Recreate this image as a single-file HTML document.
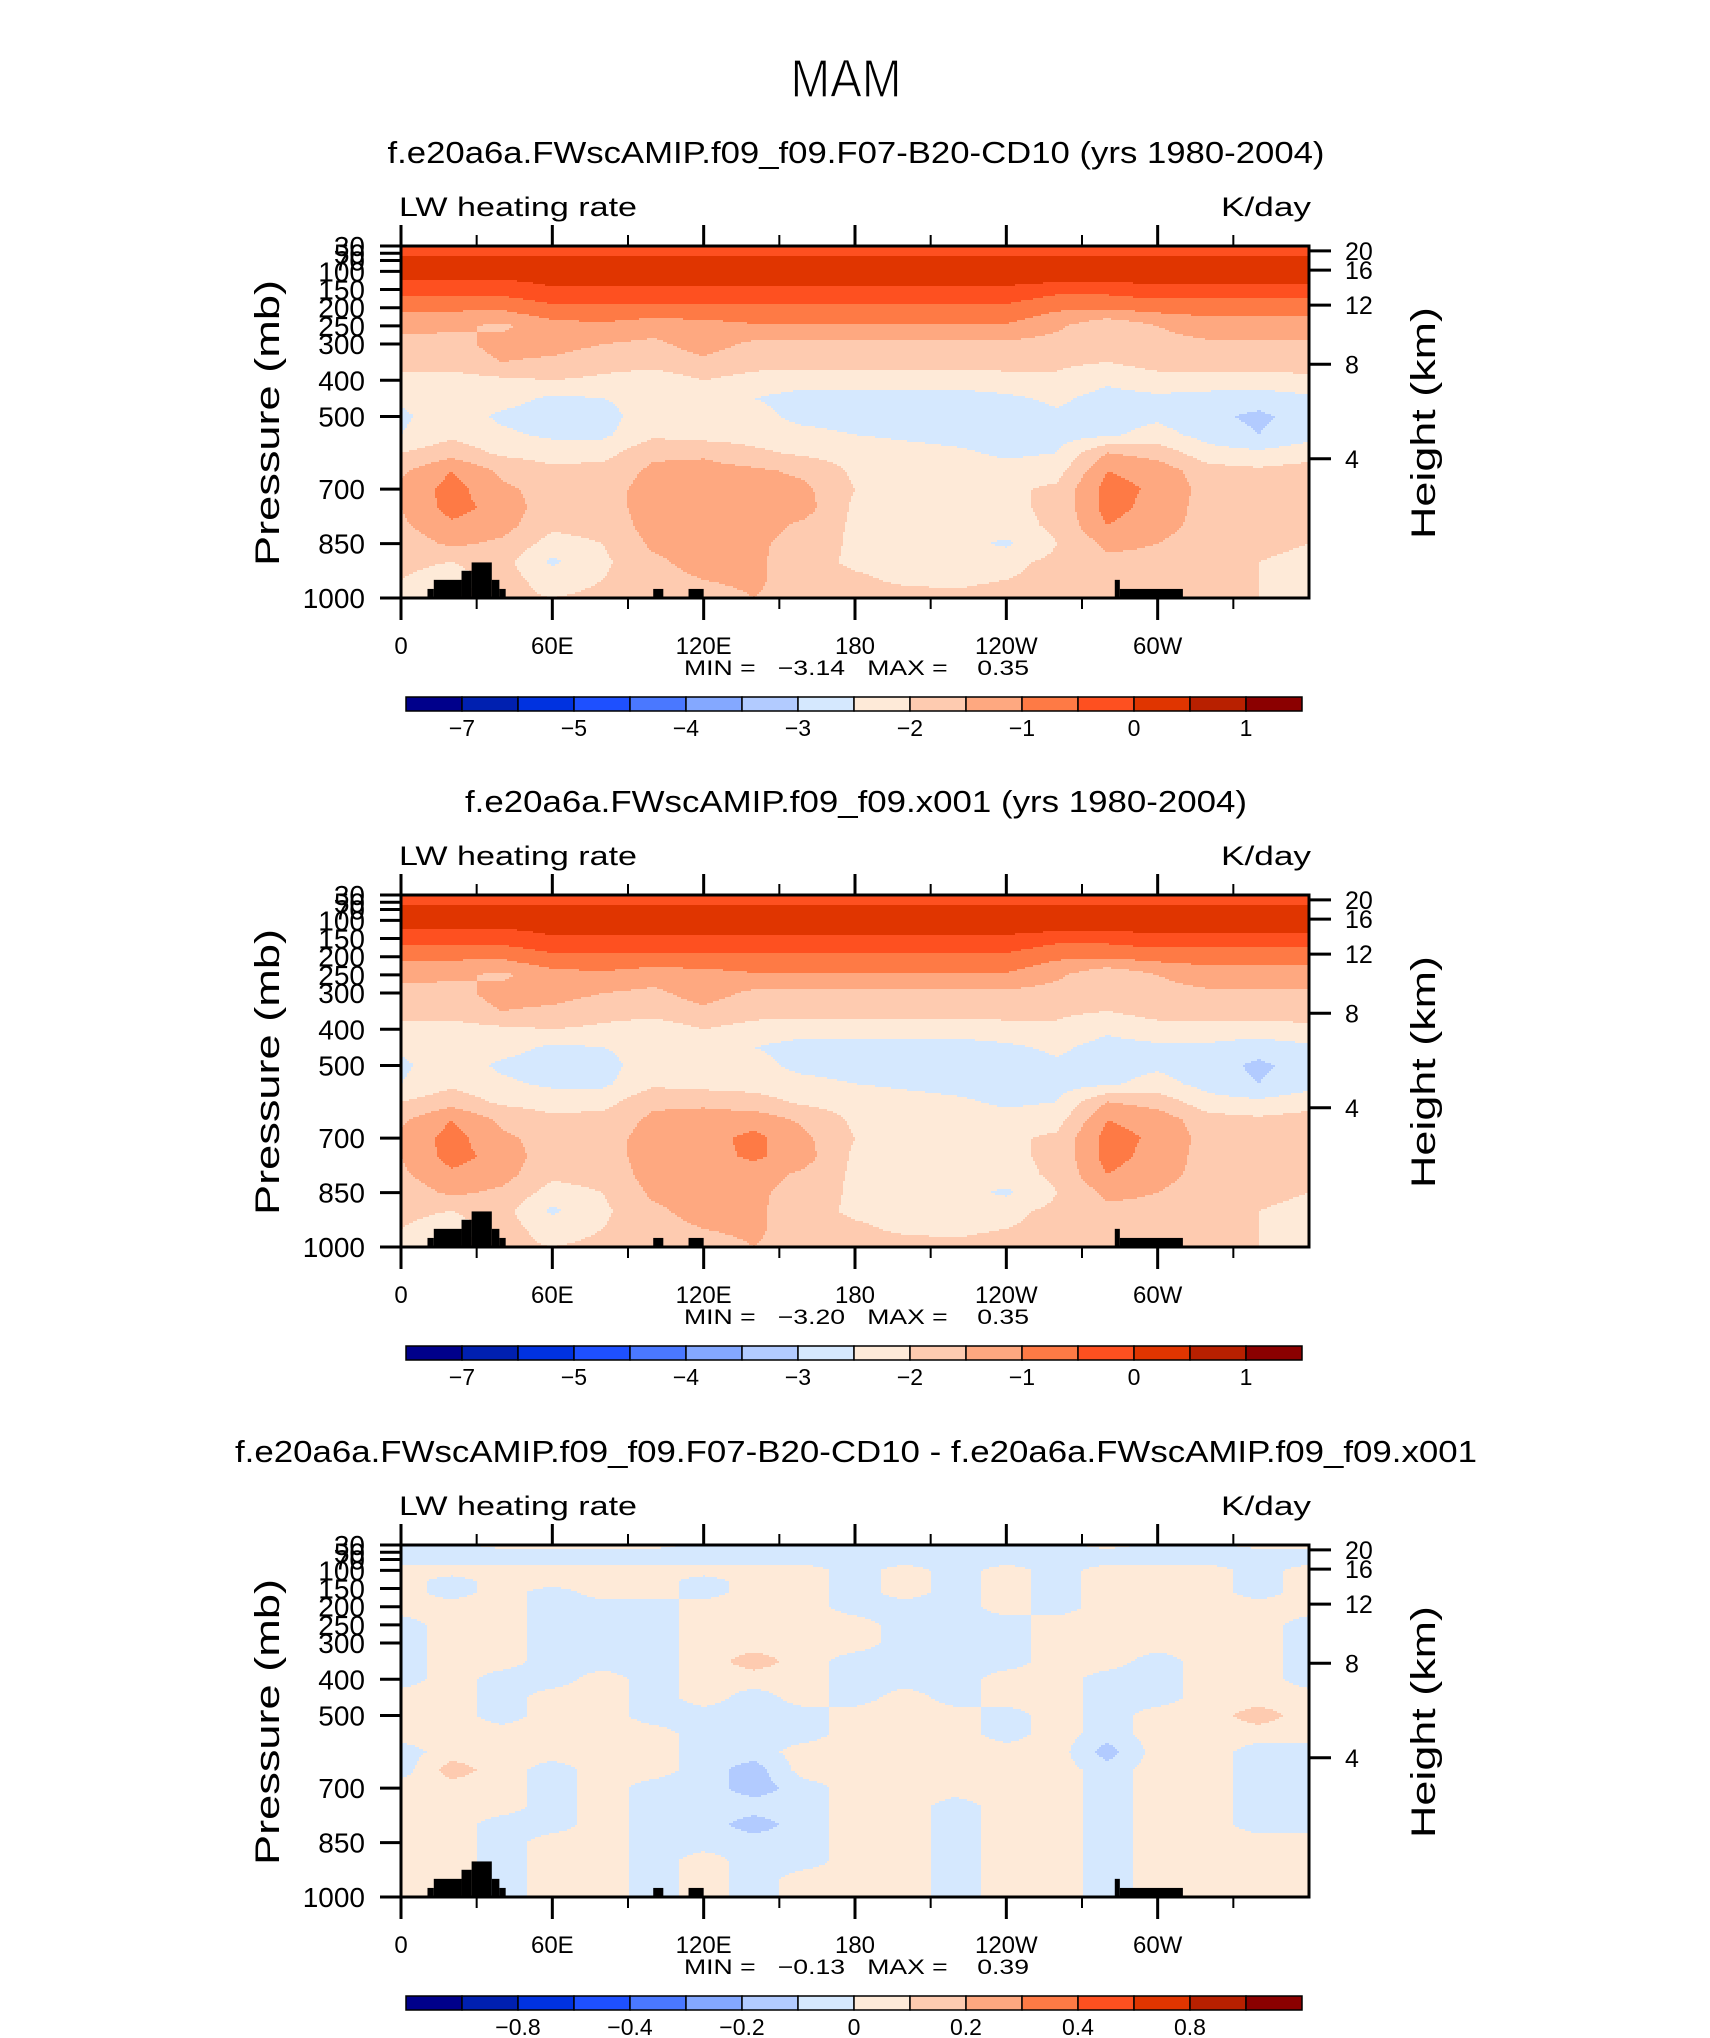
<!DOCTYPE html>
<html><head><meta charset="utf-8"><title>MAM LW heating rate</title>
<style>
html,body{margin:0;padding:0;background:#fff;}
svg{display:block;font-family:"Liberation Sans",sans-serif;}
</style></head>
<body>
<svg id="fig" width="1710" height="2038" viewBox="0 0 1710 2038" xmlns="http://www.w3.org/2000/svg">
<rect x="0" y="0" width="1710" height="2038" fill="#fff"/>
<text x="846" y="97" text-anchor="middle" font-size="54" textLength="111" lengthAdjust="spacingAndGlyphs" fill="#000" stroke="#fff" stroke-width="1.2" paint-order="normal">MAM</text>
<g id="panels"></g>
</svg>
<script>
// ---------- data ----------
const lons = [0,20,40,60,80,100,120,140,160,180,200,220,240,260,280,300,320,340,360];
const plevs = [30,50,70,100,130,160,200,250,300,350,400,450,500,550,600,650,700,750,800,850,900,950,1000];
const pTicks = [30,50,70,100,150,200,250,300,400,500,700,850,1000];
const pTickLabels = ["30","50","70","100","150","200","250","300","400","500","700","850","1000"];
const hTicks = [20,16,12,8,4];
const lonTicksMajor = [0,60,120,180,240,300];
const lonTickLabels = ["0","60E","120E","180","120W","60W"];
const lonTicksMinor = [30,90,150,210,270,330];
const colors = ["#00008b","#0020b0","#0032e0","#1e50ff","#4a78ff","#84a8ff","#b2cbff","#d5e8fe","#feead8","#fecbb0","#fea880","#fe7a45","#fe5020","#e03500","#b82000","#8b0000"];
const boundsAbs = [-7,-6,-5,-4.5,-4,-3.5,-3,-2.5,-2,-1.5,-1,-0.5,0,0.5,1];
const cbLabelsAbs = ["−7","−5","−4","−3","−2","−1","0","1"];
const cbLabelPosAbs = [1,3,5,7,9,11,13,15];
const boundsDiff = [-1,-0.8,-0.6,-0.4,-0.3,-0.2,-0.1,0,0.1,0.2,0.3,0.4,0.6,0.8,1];
const cbLabelsDiff = ["−0.8","−0.4","−0.2","0","0.2","0.4","0.8"];
const cbLabelPosDiff = [2,4,6,8,10,12,14];
const landLon0 = [10.5,13,24,28,36,39,100,114,283,285];
const landLon1 = [13,24,28,36,39,41.5,104,120,285,310];
const landTop  = [975,950,925,902,950,975,975,975,950,975];

const field1 = [
[-0.3,-0.3,-0.3,-0.3,-0.3,-0.3,-0.3,-0.3,-0.3,-0.3,-0.3,-0.3,-0.3,-0.3,-0.3,-0.3,-0.3,-0.3,-0.3],
[-0.1,-0.1,-0.1,-0.1,-0.1,-0.1,-0.1,-0.1,-0.1,-0.1,-0.1,-0.1,-0.1,-0.1,-0.1,-0.1,-0.1,-0.1,-0.1],
[0.15,0.15,0.15,0.15,0.15,0.15,0.15,0.15,0.15,0.15,0.15,0.15,0.15,0.15,0.15,0.15,0.15,0.15,0.15],
[0.3,0.3,0.3,0.3,0.3,0.3,0.3,0.3,0.3,0.3,0.3,0.3,0.3,0.3,0.3,0.3,0.3,0.3,0.3],
[-0.1,-0.1,-0.1,0.1,0.1,0.1,0.1,0.1,0.1,0.1,0.1,0.1,0.1,0.0,0.0,0.05,0.05,0.05,0.05],
[-0.4,-0.4,-0.4,-0.2,-0.2,-0.2,-0.2,-0.2,-0.2,-0.2,-0.2,-0.2,-0.2,-0.45,-0.45,-0.3,-0.3,-0.3,-0.3],
[-0.9,-0.9,-0.9,-0.6,-0.6,-0.6,-0.6,-0.6,-0.6,-0.6,-0.6,-0.6,-0.6,-0.9,-0.9,-0.8,-0.8,-0.8,-0.8],
[-1.3,-1.4,-1.6,-1.2,-1.1,-1.3,-1.2,-1.05,-1.05,-1.05,-1.05,-1.05,-1.05,-1.4,-1.9,-1.5,-1.2,-1.2,-1.2],
[-1.7,-1.7,-1.3,-1.3,-1.5,-1.6,-1.3,-1.6,-1.6,-1.6,-1.6,-1.6,-1.6,-1.7,-1.8,-1.7,-1.6,-1.6,-1.6],
[-1.8,-1.8,-1.5,-1.6,-1.8,-1.8,-1.6,-1.8,-1.8,-1.8,-1.8,-1.8,-1.8,-1.9,-2.0,-1.8,-1.8,-1.8,-1.8],
[-2.2,-2.2,-2.1,-2.0,-2.1,-2.3,-2.0,-2.2,-2.3,-2.3,-2.3,-2.3,-2.2,-2.1,-2.4,-2.2,-2.2,-2.2,-2.1],
[-2.4,-2.3,-2.3,-2.6,-2.5,-2.3,-2.3,-2.5,-2.7,-2.7,-2.7,-2.7,-2.6,-2.4,-2.7,-2.6,-2.7,-2.8,-2.6],
[-2.6,-2.2,-2.6,-2.75,-2.7,-2.2,-2.4,-2.3,-2.7,-2.8,-2.8,-2.8,-2.8,-2.6,-2.7,-2.6,-2.9,-3.1,-2.8],
[-2.5,-2.1,-2.4,-2.6,-2.6,-2.1,-2.2,-2.2,-2.3,-2.5,-2.6,-2.7,-2.8,-2.7,-2.6,-2.3,-2.7,-3.0,-2.7],
[-2.0,-1.7,-2.1,-2.2,-2.2,-1.6,-1.6,-1.9,-2.1,-2.2,-2.3,-2.4,-2.6,-2.5,-1.5,-1.7,-2.3,-2.4,-2.2],
[-1.6,-1.0,-1.6,-1.9,-1.8,-1.4,-1.3,-1.4,-1.6,-2.1,-2.2,-2.2,-2.3,-2.2,-1.0,-1.2,-1.8,-1.9,-1.8],
[-1.4,-0.8,-1.4,-1.7,-1.7,-1.3,-1.3,-1.3,-1.4,-2.0,-2.2,-2.2,-2.1,-1.9,-0.8,-1.1,-1.7,-1.7,-1.7],
[-1.5,-0.8,-1.2,-1.8,-1.7,-1.3,-1.2,-1.3,-1.3,-2.1,-2.2,-2.2,-2.1,-1.9,-0.8,-1.2,-1.7,-1.7,-1.7],
[-1.6,-1.1,-1.3,-1.9,-1.8,-1.3,-1.2,-1.3,-1.6,-2.1,-2.2,-2.3,-2.2,-1.9,-1.0,-1.3,-1.7,-1.8,-1.8],
[-1.8,-1.4,-1.6,-2.2,-2.0,-1.4,-1.3,-1.4,-1.7,-2.1,-2.2,-2.3,-2.6,-2.0,-1.4,-1.5,-1.8,-1.9,-2.0],
[-1.9,-2.0,-1.8,-2.6,-2.1,-1.6,-1.3,-1.4,-1.8,-2.1,-2.2,-2.2,-2.1,-1.9,-1.6,-1.6,-1.8,-2.0,-2.1],
[-2.0,-2.2,-1.8,-2.2,-2.0,-1.7,-1.5,-1.4,-1.8,-1.9,-2.1,-2.1,-2.0,-1.9,-1.7,-1.6,-1.8,-2.0,-2.2],
[-2.0,-2.0,-1.9,-2.0,-1.9,-1.8,-1.7,-1.5,-1.7,-1.8,-1.8,-1.9,-1.8,-1.7,-1.7,-1.7,-1.8,-2.0,-2.1]
];
const field2 = [
[-0.3,-0.3,-0.3,-0.3,-0.3,-0.3,-0.3,-0.3,-0.3,-0.3,-0.3,-0.3,-0.3,-0.3,-0.3,-0.3,-0.3,-0.3,-0.3],
[-0.1,-0.1,-0.1,-0.1,-0.1,-0.1,-0.1,-0.1,-0.1,-0.1,-0.1,-0.1,-0.1,-0.1,-0.1,-0.1,-0.1,-0.1,-0.1],
[0.15,0.15,0.15,0.15,0.15,0.15,0.15,0.15,0.15,0.15,0.15,0.15,0.15,0.15,0.15,0.15,0.15,0.15,0.15],
[0.3,0.3,0.3,0.3,0.3,0.3,0.3,0.3,0.3,0.3,0.3,0.3,0.3,0.3,0.3,0.3,0.3,0.3,0.3],
[-0.1,-0.1,-0.1,0.1,0.1,0.1,0.1,0.1,0.1,0.1,0.1,0.1,0.1,0.0,0.0,0.05,0.05,0.05,0.05],
[-0.4,-0.4,-0.4,-0.2,-0.2,-0.2,-0.2,-0.2,-0.2,-0.2,-0.2,-0.2,-0.2,-0.45,-0.45,-0.3,-0.3,-0.3,-0.3],
[-0.9,-0.9,-0.9,-0.6,-0.6,-0.6,-0.6,-0.6,-0.6,-0.6,-0.6,-0.6,-0.6,-0.9,-0.9,-0.8,-0.8,-0.8,-0.8],
[-1.3,-1.4,-1.6,-1.2,-1.1,-1.3,-1.2,-1.05,-1.05,-1.05,-1.05,-1.05,-1.05,-1.4,-1.9,-1.5,-1.2,-1.2,-1.2],
[-1.7,-1.7,-1.3,-1.3,-1.5,-1.6,-1.3,-1.6,-1.6,-1.6,-1.6,-1.6,-1.6,-1.7,-1.8,-1.7,-1.6,-1.6,-1.6],
[-1.8,-1.8,-1.5,-1.6,-1.8,-1.8,-1.6,-1.8,-1.8,-1.8,-1.8,-1.8,-1.8,-1.9,-2.0,-1.8,-1.8,-1.8,-1.8],
[-2.2,-2.2,-2.1,-2.0,-2.1,-2.3,-2.0,-2.2,-2.3,-2.3,-2.3,-2.3,-2.2,-2.1,-2.4,-2.2,-2.2,-2.2,-2.1],
[-2.4,-2.3,-2.3,-2.6,-2.5,-2.3,-2.3,-2.5,-2.7,-2.7,-2.7,-2.7,-2.6,-2.4,-2.7,-2.6,-2.6,-2.8,-2.6],
[-2.6,-2.2,-2.6,-2.75,-2.7,-2.2,-2.4,-2.3,-2.7,-2.8,-2.8,-2.8,-2.8,-2.6,-2.7,-2.6,-2.8,-3.1,-2.8],
[-2.5,-2.1,-2.4,-2.6,-2.6,-2.1,-2.2,-2.2,-2.3,-2.5,-2.6,-2.7,-2.8,-2.7,-2.6,-2.3,-2.7,-3.0,-2.7],
[-2.0,-1.7,-2.1,-2.2,-2.2,-1.6,-1.6,-1.8,-2.1,-2.2,-2.3,-2.4,-2.6,-2.5,-1.5,-1.7,-2.3,-2.4,-2.2],
[-1.6,-1.0,-1.6,-1.9,-1.8,-1.4,-1.3,-1.2,-1.6,-2.1,-2.2,-2.2,-2.3,-2.2,-1.0,-1.2,-1.8,-1.9,-1.8],
[-1.4,-0.8,-1.4,-1.7,-1.7,-1.3,-1.2,-0.85,-1.4,-2.0,-2.2,-2.2,-2.1,-1.9,-0.8,-1.1,-1.7,-1.7,-1.7],
[-1.5,-0.8,-1.2,-1.8,-1.7,-1.3,-1.2,-0.9,-1.3,-2.1,-2.2,-2.2,-2.1,-1.9,-0.8,-1.2,-1.7,-1.7,-1.7],
[-1.6,-1.1,-1.3,-1.9,-1.8,-1.3,-1.2,-1.3,-1.6,-2.1,-2.2,-2.3,-2.2,-1.9,-1.0,-1.3,-1.7,-1.8,-1.8],
[-1.8,-1.4,-1.6,-2.2,-2.0,-1.4,-1.3,-1.4,-1.7,-2.1,-2.2,-2.3,-2.6,-2.0,-1.4,-1.5,-1.8,-1.9,-2.0],
[-1.9,-2.0,-1.8,-2.6,-2.1,-1.6,-1.3,-1.4,-1.8,-2.1,-2.2,-2.2,-2.1,-1.9,-1.6,-1.6,-1.8,-2.0,-2.1],
[-2.0,-2.2,-1.8,-2.2,-2.0,-1.7,-1.5,-1.4,-1.8,-1.9,-2.1,-2.1,-2.0,-1.9,-1.7,-1.6,-1.8,-2.0,-2.2],
[-2.0,-2.0,-1.9,-2.0,-1.9,-1.8,-1.7,-1.5,-1.7,-1.8,-1.8,-1.9,-1.8,-1.7,-1.7,-1.7,-1.8,-2.0,-2.1]
];
const fieldDiff = [
[-0.05,-0.05,0.05,0.05,0.05,0.05,-0.05,-0.05,-0.05,-0.05,-0.05,-0.05,-0.05,-0.05,0.05,-0.05,-0.05,0.05,0.05],
[-0.05,-0.05,-0.05,-0.05,-0.05,-0.05,-0.05,-0.05,-0.05,-0.05,-0.05,-0.05,-0.05,-0.05,-0.05,-0.05,-0.05,-0.05,-0.05],
[-0.05,-0.05,-0.05,-0.05,-0.05,-0.05,-0.05,-0.05,-0.05,-0.05,-0.05,-0.05,-0.05,-0.05,-0.05,-0.05,-0.05,-0.05,-0.05],
[0.05,0.05,0.05,0.05,0.05,0.05,0.05,0.05,0.05,-0.05,0.05,-0.05,0.05,-0.05,0.05,0.05,0.05,-0.05,0.05],
[0.05,-0.05,0.05,0.05,0.05,0.05,-0.05,0.05,0.05,-0.05,0.05,-0.05,0.05,-0.05,0.05,0.05,0.05,-0.05,0.05],
[0.05,-0.05,0.05,-0.05,0.05,0.05,-0.05,0.05,0.05,-0.05,0.05,-0.05,0.05,-0.05,0.05,0.05,0.05,-0.05,0.05],
[0.05,0.05,0.05,-0.05,-0.05,-0.05,0.05,0.05,0.05,-0.05,-0.05,-0.05,0.05,-0.05,0.05,0.05,0.05,0.05,0.05],
[-0.05,0.05,0.05,-0.05,-0.05,-0.05,0.05,0.05,0.05,0.05,-0.05,-0.05,-0.05,0.05,0.05,0.05,0.05,0.05,-0.05],
[-0.05,0.05,0.05,-0.05,-0.05,-0.05,0.05,0.05,0.05,0.05,-0.05,-0.05,-0.05,0.05,0.05,0.05,0.05,0.05,-0.05],
[-0.05,0.05,0.05,-0.05,-0.05,-0.05,0.05,0.15,0.05,-0.05,-0.05,-0.05,-0.05,0.05,0.05,-0.05,0.05,0.05,-0.05],
[-0.05,0.05,-0.05,-0.05,0.05,-0.05,0.05,0.05,0.05,-0.05,-0.05,-0.05,0.05,0.05,-0.05,-0.05,0.05,0.05,-0.05],
[0.05,0.05,-0.05,0.05,0.05,-0.05,0.05,-0.05,0.05,-0.05,0.05,-0.05,0.05,0.05,-0.05,-0.05,0.05,0.05,0.05],
[0.05,0.05,-0.05,0.05,0.05,-0.05,-0.05,-0.05,-0.05,0.05,0.05,0.05,-0.05,0.05,-0.05,0.05,0.05,0.15,0.05],
[0.05,0.05,0.05,0.05,0.05,0.05,-0.05,-0.05,-0.05,0.05,0.05,0.05,-0.05,0.05,-0.05,0.05,0.05,0.05,0.05],
[-0.05,0.05,0.05,0.05,0.05,0.05,-0.05,-0.05,0.05,0.05,0.05,0.05,0.05,0.05,-0.15,0.05,0.05,-0.05,-0.05],
[-0.05,0.15,0.05,-0.05,0.05,0.05,-0.05,-0.15,0.05,0.05,0.05,0.05,0.05,0.05,-0.05,0.05,0.05,-0.05,-0.05],
[0.05,0.05,0.05,-0.05,0.05,-0.05,-0.05,-0.15,-0.05,0.05,0.05,0.05,0.05,0.05,-0.05,0.05,0.05,-0.05,-0.05],
[0.05,0.05,0.05,-0.05,0.05,-0.05,-0.05,-0.05,-0.05,0.05,0.05,-0.05,0.05,0.05,-0.05,0.05,0.05,-0.05,-0.05],
[0.05,0.05,-0.05,-0.05,0.05,-0.05,-0.05,-0.15,-0.05,0.05,0.05,-0.05,0.05,0.05,-0.05,0.05,0.05,-0.05,-0.05],
[0.05,0.05,-0.05,0.05,0.05,-0.05,-0.05,-0.05,-0.05,0.05,0.05,-0.05,0.05,0.05,-0.05,0.05,0.05,0.05,0.05],
[0.05,0.05,-0.05,0.05,0.05,-0.05,0.05,-0.05,-0.05,0.05,0.05,-0.05,0.05,0.05,-0.05,0.05,0.05,0.05,0.05],
[0.05,0.05,-0.05,0.05,0.05,-0.05,0.05,-0.05,0.05,0.05,0.05,-0.05,0.05,0.05,-0.05,0.05,0.05,0.05,0.05],
[0.05,0.05,-0.05,0.05,0.05,-0.05,0.05,-0.05,0.05,0.05,0.05,-0.05,0.05,0.05,-0.05,0.05,0.05,0.05,0.05]
];
const panelTitles = ["f.e20a6a.FWscAMIP.f09_f09.F07-B20-CD10 (yrs 1980-2004)","f.e20a6a.FWscAMIP.f09_f09.x001 (yrs 1980-2004)","f.e20a6a.FWscAMIP.f09_f09.F07-B20-CD10 - f.e20a6a.FWscAMIP.f09_f09.x001"];
const panelTitleWidths = [937,782,1242];
const minVals = ["−3.14","−3.20","−0.13"];
const maxVals = ["0.35","0.35","0.39"];

// ---------- layout ----------
const NS = "http://www.w3.org/2000/svg";
const L = 401, R = 1309, W = R - L, H = 352;
const panelTops = [246, 895, 1545];

function mk(tag, attrs, parent){
  const e = document.createElementNS(NS, tag);
  for (const k in attrs) e.setAttribute(k, attrs[k]);
  parent.appendChild(e);
  return e;
}
function interp(field, lon, p){
  let i = Math.min(Math.floor(lon/20), lons.length-2);
  const fx = (lon - lons[i]) / 20;
  let j = 0;
  while (j < plevs.length-2 && p > plevs[j+1]) j++;
  const fy = Math.max(0, Math.min(1, (p - plevs[j]) / (plevs[j+1] - plevs[j])));
  const a = field[j][i], b = field[j][i+1], c = field[j+1][i], d = field[j+1][i+1];
  return (a*(1-fx)+b*fx)*(1-fy) + (c*(1-fx)+d*fx)*fy;
}
function binOf(v, bounds){ let k=0; while(k<bounds.length && v>=bounds[k]) k++; return k; }
function hToP(z){ return 1013.25*Math.pow(1-2.25577e-5*z*1000, 5.25588); }

const root = document.getElementById('panels');
const fields = [field1, field2, fieldDiff];

for (let pi = 0; pi < 3; pi++){
  const T = panelTops[pi];
  const xS = lon => L + lon/360*W;
  const yS = p => T + (p-30)/970*H;
  const field = fields[pi];
  const bounds = pi === 2 ? boundsDiff : boundsAbs;
  const g = mk('g', {}, root);
  
  

  const tt = mk('text', {x: 856, y: T-83, 'text-anchor':'middle', 'font-size':31, textLength: panelTitleWidths[pi], lengthAdjust:'spacingAndGlyphs'}, g);
  
  
  tt.textContent = panelTitles[pi];

  const lt = mk('text', {x: 399, y: T-30, 'font-size':27, textLength:238, lengthAdjust:'spacingAndGlyphs'}, g);
  
  
  lt.textContent = 'LW heating rate';
  const ut = mk('text', {x: 1311, y: T-30, 'text-anchor':'end', 'font-size':27, textLength:90, lengthAdjust:'spacingAndGlyphs'}, g);
  
  
  ut.textContent = 'K/day';

  // contour fill
  const fg = mk('g', {'shape-rendering':'crispEdges'}, g);
  
  
  const step = 2;
  for (let py = 0; py < H; py += step){
    const p = 30 + (py + step/2)/H*970;
    let runStart = 0, runBin = -1;
    for (let px = 0; px <= W; px += step){
      let b = -2;
      if (px < W){ const lon = (px + step/2)/W*360; b = binOf(interp(field, lon, p), bounds); }
      if (b !== runBin){
        if (runBin >= 0){
          const r = mk('rect', {x: L+runStart, y: T+py, width: px-runStart+0.5, height: step+0.5, fill: colors[runBin]}, fg);
          
          
        }
        runStart = px; runBin = b;
      }
    }
  }
  // land mask
  for (let k = 0; k < landLon0.length; k++){
    const r = mk('rect', {x: xS(landLon0[k]), y: yS(landTop[k]), width: xS(landLon1[k])-xS(landLon0[k]), height: yS(1000)-yS(landTop[k]), fill:'#000'}, g);
    
    
  }
  const fr = mk('rect', {x: L, y: T, width: W, height: H, fill:'none', stroke:'#000', 'stroke-width':3}, g);
  
  

  // pressure axis
  for (let k = 0; k < pTicks.length; k++){
    const y = yS(pTicks[k]);
    const tl = mk('line', {x1: L-21, x2: L, y1: y, y2: y, stroke:'#000', 'stroke-width':3}, g);
    
    
    const tx = mk('text', {x: 365, y: y+10, 'text-anchor':'end', 'font-size':28}, g);
    
    
    tx.textContent = pTickLabels[k];
  }
  const yt = mk('text', {x: 0, y: 0, 'text-anchor':'middle', 'font-size':34, textLength:286, lengthAdjust:'spacingAndGlyphs', transform:`translate(279 ${T+177}) rotate(-90)`}, g);
  
  
  yt.textContent = 'Pressure (mb)';

  // height axis
  for (let k = 0; k < hTicks.length; k++){
    const y = yS(hToP(hTicks[k]));
    const tl = mk('line', {x1: R, x2: R+22, y1: y, y2: y, stroke:'#000', 'stroke-width':3}, g);
    
    
    const tx = mk('text', {x: 1345, y: y+9, 'font-size':25}, g);
    
    
    tx.textContent = String(hTicks[k]);
  }
  const ht = mk('text', {x: 0, y: 0, 'text-anchor':'middle', 'font-size':34, textLength:232, lengthAdjust:'spacingAndGlyphs', transform:`translate(1435 ${T+177}) rotate(-90)`}, g);
  
  
  ht.textContent = 'Height (km)';

  // lon axis
  for (let k = 0; k < lonTicksMajor.length; k++){
    const x = xS(lonTicksMajor[k]);
    const b1 = mk('line', {x1: x, x2: x, y1: T+H, y2: T+H+22, stroke:'#000', 'stroke-width':3}, g);
    
    
    const b2 = mk('line', {x1: x, x2: x, y1: T-21, y2: T, stroke:'#000', 'stroke-width':3}, g);
    
    
    const tx = mk('text', {x: x, y: T+H+56, 'text-anchor':'middle', 'font-size':24}, g);
    
    
    tx.textContent = lonTickLabels[k];
  }
  for (let k = 0; k < lonTicksMinor.length; k++){
    const x = xS(lonTicksMinor[k]);
    const b1 = mk('line', {x1: x, x2: x, y1: T+H, y2: T+H+11, stroke:'#000', 'stroke-width':2}, g);
    
    
    const b2 = mk('line', {x1: x, x2: x, y1: T-11, y2: T, stroke:'#000', 'stroke-width':2}, g);
    
    
  }
  const mm = mk('text', {x: 684, y: T+H+77, 'font-size':21, textLength:345, lengthAdjust:'spacingAndGlyphs', style:'white-space:pre'}, g);
  
  
  mm.textContent = `MIN =   ${minVals[pi]}   MAX =    ${maxVals[pi]}`;

  // colorbar
  const cb = mk('g', {}, g);
  
  
  const cbL = 406, cbW = 56, cbY = T+451, cbH = 14;
  for (let k = 0; k < colors.length; k++){
    const r = mk('rect', {x: cbL + k*cbW, y: cbY, width: cbW, height: cbH, fill: colors[k], stroke:'#000', 'stroke-width':1.5}, cb);
    
    
  }
  const labs = pi === 2 ? cbLabelsDiff : cbLabelsAbs;
  const pos = pi === 2 ? cbLabelPosDiff : cbLabelPosAbs;
  for (let k = 0; k < labs.length; k++){
    const tx = mk('text', {x: cbL + pos[k]*cbW, y: cbY+39, 'text-anchor':'middle', 'font-size':23}, cb);
    
    
    tx.textContent = labs[k];
  }
}
</script>
</body></html>
